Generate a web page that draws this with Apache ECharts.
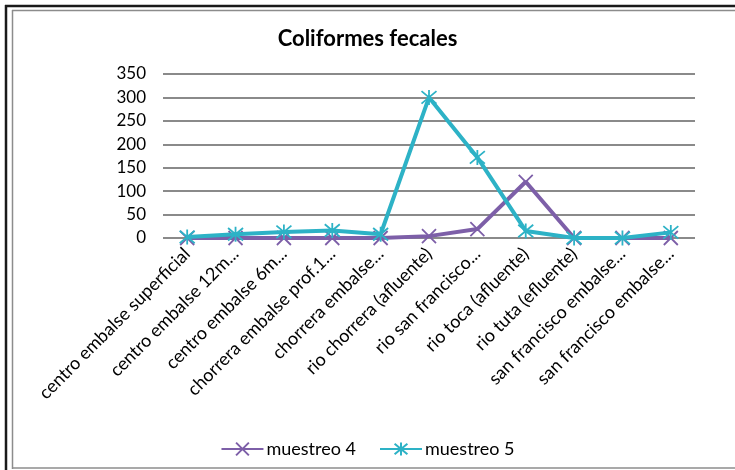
<!DOCTYPE html>
<html>
<head>
<meta charset="utf-8">
<script src="https://cdn.jsdelivr.net/npm/echarts@6/dist/echarts.min.js"></script>
<style>
  html, body { margin: 0; padding: 0; background: #fff; }
  #chart { width: 735px; height: 470px; }
</style>
</head>
<body>
<div id="chart"></div>
<script>
// Sampling sites (labels as shown on the axis, truncated ones kept truncated)
const categories = [
  'centro embalse superficial',
  'centro embalse 12m...',
  'centro embalse 6m...',
  'chorrera embalse prof.1...',
  'chorrera embalse...',
  'rio chorrera (afluente)',
  'rio san francisco...',
  'rio toca (afluente)',
  'rio tuta (efluente)',
  'san francisco embalse...',
  'san francisco embalse...'
];

// Fecal coliform counts per sampling round
const muestreo4 = [0, 0, 0, 0, 0, 4, 19, 120, 0, 0, 0];
const muestreo5 = [2, 8, 13, 16, 8, 300, 172, 15, 0, 0, 12];

const yTicks = [0, 50, 100, 150, 200, 250, 300, 350];

const PURPLE = '#7d5fa8';
const TEAL = '#2db2c6';
const FONT = 'Lato';

// Marker shapes: an "x" and an asterisk (x plus vertical stroke)
const xMark = 'path://M0,0L10,10M10,0L0,10';
const starMark = 'path://M0,0L10,10M10,0L0,10M5,-1L5,11';

const chart = echarts.init(document.getElementById('chart'), null, { renderer: 'canvas' });

chart.setOption({
  animation: false,
  backgroundColor: '#ffffff',
  textStyle: { fontFamily: FONT },
  title: {
    text: 'Coliformes fecales',
    left: 'center',
    top: 23,
    textStyle: { fontFamily: FONT, fontSize: 22, fontWeight: 'bold', color: '#000' }
  },
  legend: {
    top: 435,
    left: 'center',
    itemWidth: 42,
    itemHeight: 16,
    itemGap: 23,
    textStyle: { fontFamily: FONT, fontSize: 18, color: '#000', padding: [0, 0, 0, -2] },
    data: ['muestreo 4', 'muestreo 5']
  },
  grid: { left: 163, right: 40, top: 74, bottom: 232, containLabel: false },
  xAxis: {
    type: 'category',
    data: categories,
    boundaryGap: true,
    axisLine: { show: false },
    axisTick: { show: false },
    axisLabel: {
      interval: 0,
      rotate: 45,
      margin: 13,
      fontFamily: FONT,
      fontSize: 18,
      color: '#000'
    }
  },
  yAxis: {
    type: 'value',
    min: yTicks[0],
    max: yTicks[yTicks.length - 1],
    interval: yTicks[1] - yTicks[0],
    axisLine: { show: false },
    axisTick: { show: false },
    axisLabel: { fontFamily: FONT, fontSize: 17, color: '#000', margin: 17 },
    splitLine: { lineStyle: { color: '#8a8a8a', width: 2 } }
  },
  series: [
    {
      name: 'muestreo 4',
      type: 'line',
      data: muestreo4,
      symbol: xMark,
      symbolSize: 14,
      showAllSymbol: true,
      lineStyle: { color: PURPLE, width: 4 },
      itemStyle: { color: 'rgba(0,0,0,0)', borderColor: PURPLE, borderWidth: 1.8 },
      z: 2
    },
    {
      name: 'muestreo 5',
      type: 'line',
      data: muestreo5,
      symbol: starMark,
      symbolSize: 15,
      showAllSymbol: true,
      lineStyle: { color: TEAL, width: 4 },
      itemStyle: { color: 'rgba(0,0,0,0)', borderColor: TEAL, borderWidth: 1.8 },
      z: 3
    }
  ],
  graphic: [
    // outer dark frame (left and top edges)
    { type: 'line', shape: { x1: 6, y1: 5, x2: 6, y2: 470 }, style: { stroke: '#1a1a1a', lineWidth: 2.5 } },
    { type: 'line', shape: { x1: 5, y1: 6, x2: 735, y2: 6 }, style: { stroke: '#1a1a1a', lineWidth: 2.5 } },
    // inner grey frame
    { type: 'line', shape: { x1: 12.5, y1: 10, x2: 12.5, y2: 469 }, style: { stroke: '#8c8c8c', lineWidth: 1.5 } },
    { type: 'line', shape: { x1: 12, y1: 10.5, x2: 735, y2: 10.5 }, style: { stroke: '#8c8c8c', lineWidth: 1.5 } },
    { type: 'line', shape: { x1: 12, y1: 468, x2: 735, y2: 468 }, style: { stroke: '#8c8c8c', lineWidth: 1.5 } }
  ]
});
</script>
</body>
</html>
